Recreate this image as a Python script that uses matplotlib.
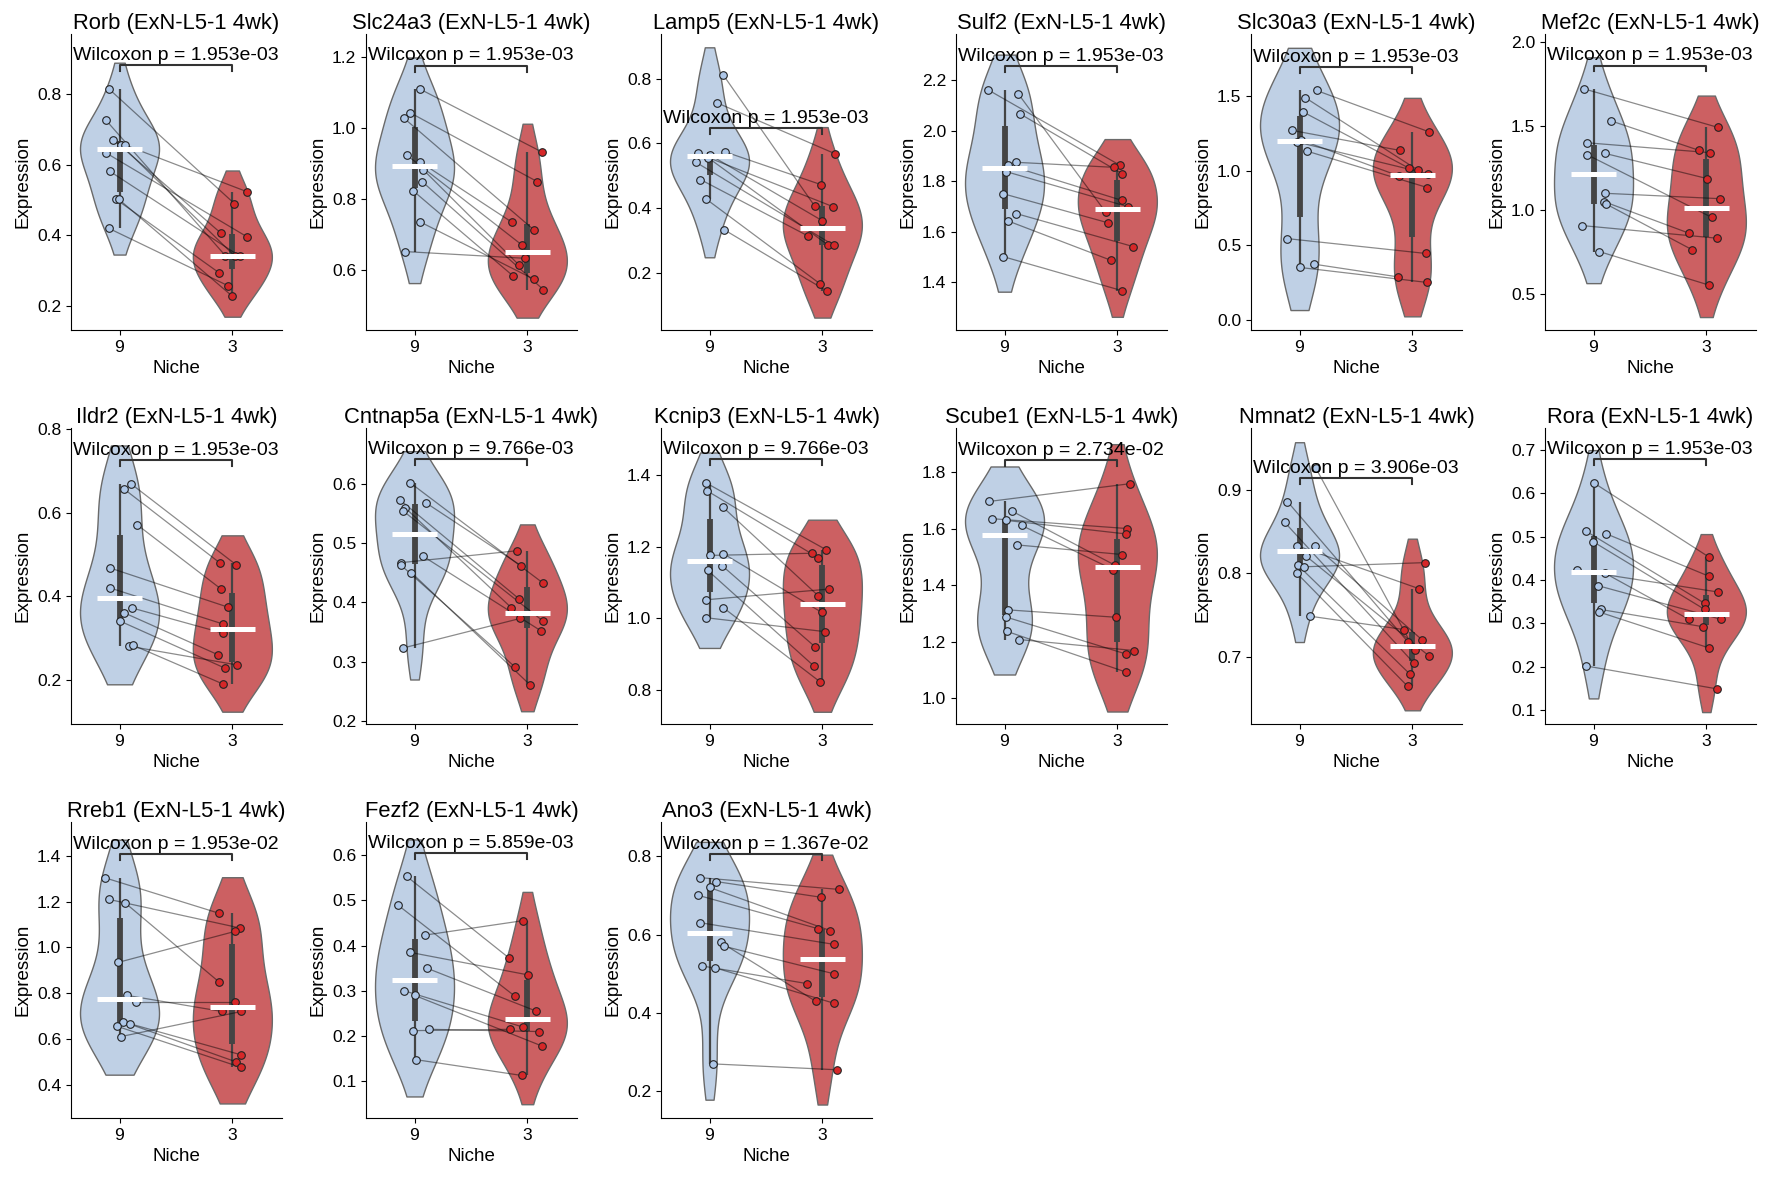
import numpy as np
import matplotlib
matplotlib.use("Agg")
import matplotlib.pyplot as plt
from matplotlib.ticker import MaxNLocator

plt.rcParams['font.family'] = ['Liberation Sans', 'DejaVu Sans']

# ---------------- data (pair i: niche 9 value <-> niche 3 value) ----------------
categories = ["9", "3"]
genes = ["Rorb", "Slc24a3", "Lamp5", "Sulf2", "Slc30a3", "Mef2c",
         "Ildr2", "Cntnap5a", "Kcnip3", "Scube1", "Nmnat2", "Rora",
         "Rreb1", "Fezf2", "Ano3"]
pvals = ["1.953e-03", "1.953e-03", "1.953e-03", "1.953e-03", "1.953e-03", "1.953e-03",
         "1.953e-03", "9.766e-03", "9.766e-03", "2.734e-02", "3.906e-03", "1.953e-03",
         "1.953e-02", "5.859e-03", "1.367e-02"]

rorb_9 = [0.814, 0.727, 0.671, 0.655, 0.655, 0.634, 0.581, 0.502, 0.502, 0.420]
rorb_3 = [0.490, 0.343, 0.407, 0.341, 0.524, 0.397, 0.341, 0.294, 0.230, 0.258]
slc24a3_9 = [1.110, 1.043, 1.028, 0.924, 0.905, 0.883, 0.849, 0.824, 0.736, 0.652]
slc24a3_3 = [0.933, 0.849, 0.712, 0.671, 0.735, 0.614, 0.545, 0.584, 0.574, 0.633]
lamp5_9 = [0.812, 0.726, 0.574, 0.569, 0.565, 0.555, 0.542, 0.488, 0.427, 0.333]
lamp5_3 = [0.406, 0.568, 0.472, 0.404, 0.361, 0.286, 0.284, 0.314, 0.166, 0.143]
sulf2_9 = [2.162, 2.146, 2.067, 1.875, 1.864, 1.838, 1.751, 1.672, 1.643, 1.502]
sulf2_3 = [1.863, 1.678, 1.830, 1.855, 1.724, 1.699, 1.636, 1.541, 1.487, 1.367]
slc30a3_9 = [1.536, 1.487, 1.393, 1.269, 1.205, 1.191, 1.131, 0.545, 0.374, 0.352]
slc30a3_3 = [1.260, 1.001, 1.015, 1.135, 0.964, 0.979, 0.886, 0.445, 0.289, 0.251]
mef2c_9 = [1.721, 1.532, 1.401, 1.338, 1.330, 1.101, 1.051, 1.036, 0.909, 0.755]
mef2c_3 = [1.492, 1.356, 1.342, 1.188, 0.958, 1.069, 0.864, 0.765, 0.834, 0.555]
ildr2_9 = [0.669, 0.656, 0.571, 0.468, 0.420, 0.372, 0.361, 0.341, 0.281, 0.283]
ildr2_3 = [0.475, 0.480, 0.418, 0.374, 0.334, 0.312, 0.260, 0.228, 0.236, 0.190]
cntnap5a_9 = [0.602, 0.568, 0.573, 0.559, 0.554, 0.478, 0.467, 0.463, 0.450, 0.323]
cntnap5a_3 = [0.433, 0.462, 0.406, 0.391, 0.369, 0.352, 0.487, 0.291, 0.261, 0.373]
kcnip3_9 = [1.379, 1.357, 1.310, 1.176, 1.181, 1.147, 1.134, 1.052, 1.030, 1.002]
kcnip3_3 = [1.192, 1.170, 1.064, 1.182, 1.017, 0.921, 0.867, 1.082, 0.823, 0.963]
scube1_9 = [1.696, 1.661, 1.635, 1.629, 1.611, 1.542, 1.312, 1.287, 1.236, 1.207]
scube1_3 = [1.759, 1.470, 1.600, 1.581, 1.455, 1.508, 1.286, 1.156, 1.092, 1.168]
nmnat2_9 = [0.926, 0.886, 0.861, 0.833, 0.833, 0.821, 0.810, 0.808, 0.800, 0.749]
nmnat2_3 = [0.708, 0.718, 0.693, 0.782, 0.721, 0.701, 0.680, 0.813, 0.665, 0.733]
rora_9 = [0.624, 0.512, 0.506, 0.488, 0.422, 0.416, 0.387, 0.332, 0.326, 0.202]
rora_3 = [0.452, 0.346, 0.408, 0.332, 0.372, 0.309, 0.309, 0.292, 0.243, 0.149]
rreb1_9 = [1.305, 1.210, 1.195, 0.935, 0.790, 0.760, 0.675, 0.665, 0.655, 0.610]
rreb1_3 = [1.150, 1.085, 0.850, 1.070, 0.720, 0.760, 0.530, 0.500, 0.475, 0.720]
fezf2_9 = [0.553, 0.490, 0.423, 0.385, 0.350, 0.300, 0.290, 0.215, 0.212, 0.148]
fezf2_3 = [0.372, 0.288, 0.455, 0.335, 0.255, 0.220, 0.178, 0.210, 0.215, 0.113]
ano3_9 = [0.745, 0.735, 0.720, 0.700, 0.630, 0.580, 0.570, 0.520, 0.515, 0.270]
ano3_3 = [0.715, 0.695, 0.610, 0.615, 0.575, 0.430, 0.500, 0.475, 0.425, 0.255]

# horizontal jitter of the plotted points (category units)
rorb_j9 = [-0.094, -0.124, -0.056, 0.015, 0.053, -0.124, -0.085, -0.030, -0.006, -0.094]
rorb_j3 = [0.018, -0.062, -0.103, 0.024, 0.126, 0.126, 0.068, -0.115, -0.006, -0.038]
slc24a3_j9 = [0.047, -0.038, -0.094, -0.070, 0.047, 0.076, 0.068, -0.015, 0.047, -0.085]
slc24a3_j3 = [0.126, 0.088, 0.062, -0.050, -0.138, -0.074, 0.141, -0.129, 0.059, -0.021]
lamp5_j9 = [0.122, 0.065, 0.137, -0.104, 0.000, -0.010, -0.122, -0.080, -0.027, 0.128]
lamp5_j3 = [-0.068, 0.113, -0.009, 0.095, -0.003, 0.048, 0.104, -0.131, -0.024, 0.039]
sulf2_j9 = [-0.146, 0.122, 0.137, 0.101, 0.030, 0.015, -0.015, 0.104, 0.030, -0.015]
sulf2_j3 = [0.024, -0.104, 0.042, -0.027, 0.042, 0.096, -0.087, 0.143, -0.057, 0.039]
slc30a3_j9 = [0.151, 0.053, 0.030, -0.068, 0.010, -0.021, 0.062, -0.113, 0.125, 0.000]
slc30a3_j3 = [0.145, 0.053, -0.027, -0.110, -0.120, 0.136, 0.134, 0.122, -0.131, 0.134]
mef2c_j9 = [-0.083, 0.151, -0.059, 0.101, -0.056, 0.101, 0.095, 0.115, -0.098, 0.050]
mef2c_j3 = [0.104, -0.065, 0.036, 0.009, 0.047, 0.118, -0.154, -0.124, 0.098, 0.027]
ildr2_j9 = [0.100, 0.041, 0.156, -0.088, -0.085, 0.112, 0.038, 0.003, 0.082, 0.121]
ildr2_j3 = [0.035, -0.112, -0.103, -0.038, -0.085, -0.082, -0.124, -0.062, 0.044, -0.079]
cntnap5a_j9 = [-0.041, 0.100, -0.130, -0.080, -0.100, 0.074, -0.121, -0.121, -0.027, -0.104]
cntnap5a_j3 = [0.136, -0.056, -0.074, -0.142, 0.136, 0.121, -0.095, -0.109, 0.024, -0.062]
kcnip3_j9 = [-0.033, -0.024, 0.122, 0.000, 0.122, 0.113, -0.015, -0.033, 0.122, -0.033]
kcnip3_j3 = [0.033, -0.039, -0.039, -0.096, -0.006, -0.066, -0.075, 0.060, -0.021, 0.024]
scube1_j9 = [-0.134, 0.069, -0.113, 0.012, 0.152, 0.113, 0.033, 0.012, 0.021, 0.131]
scube1_j3 = [0.116, -0.020, 0.087, 0.075, -0.039, 0.045, -0.015, 0.075, 0.075, 0.149]
nmnat2_j9 = [0.145, -0.107, -0.130, -0.018, 0.136, 0.056, -0.015, 0.036, -0.021, 0.089]
nmnat2_j3 = [0.021, -0.038, 0.012, 0.056, 0.083, 0.151, -0.024, 0.112, -0.041, -0.077]
rora_j9 = [0.000, -0.065, 0.115, -0.003, -0.145, 0.098, 0.036, 0.062, 0.050, -0.071]
rora_j3 = [0.027, -0.015, 0.027, -0.015, 0.107, -0.154, 0.133, -0.027, 0.027, 0.092]
rreb1_j9 = [-0.130, -0.090, 0.050, -0.010, 0.070, 0.150, 0.030, 0.090, -0.020, 0.010]
rreb1_j3 = [-0.120, 0.070, -0.120, 0.020, -0.090, 0.020, 0.080, 0.030, 0.080, 0.080]
fezf2_j9 = [-0.070, -0.150, 0.090, -0.040, 0.110, -0.090, 0.000, 0.130, -0.010, 0.010]
fezf2_j3 = [-0.160, -0.110, -0.040, 0.010, 0.080, -0.040, 0.130, 0.100, -0.150, -0.050]
ano3_j9 = [-0.080, 0.060, 0.000, -0.100, -0.080, 0.100, 0.130, -0.070, 0.050, 0.030]
ano3_j3 = [0.150, -0.010, 0.070, -0.040, 0.100, -0.060, 0.100, -0.140, 0.100, 0.130]

# y-axis limits as shown
ylims = [(0.133, 0.969), (0.431, 1.265), (0.022, 0.939), (1.211, 2.383), (-0.067, 1.914), (0.289, 2.047),
         (0.095, 0.802), (0.195, 0.694), (0.705, 1.532), (0.908, 1.956), (0.620, 0.974), (0.068, 0.750),
         (0.254, 1.549), (0.019, 0.673), (0.132, 0.887)]

panel_data = [
    (rorb_9, rorb_3, rorb_j9, rorb_j3), (slc24a3_9, slc24a3_3, slc24a3_j9, slc24a3_j3),
    (lamp5_9, lamp5_3, lamp5_j9, lamp5_j3), (sulf2_9, sulf2_3, sulf2_j9, sulf2_j3),
    (slc30a3_9, slc30a3_3, slc30a3_j9, slc30a3_j3), (mef2c_9, mef2c_3, mef2c_j9, mef2c_j3),
    (ildr2_9, ildr2_3, ildr2_j9, ildr2_j3), (cntnap5a_9, cntnap5a_3, cntnap5a_j9, cntnap5a_j3),
    (kcnip3_9, kcnip3_3, kcnip3_j9, kcnip3_j3), (scube1_9, scube1_3, scube1_j9, scube1_j3),
    (nmnat2_9, nmnat2_3, nmnat2_j9, nmnat2_j3), (rora_9, rora_3, rora_j9, rora_j3),
    (rreb1_9, rreb1_3, rreb1_j9, rreb1_j3), (fezf2_9, fezf2_3, fezf2_j9, fezf2_j3),
    (ano3_9, ano3_3, ano3_j9, ano3_j3),
]

# ---------------- styling ----------------
VIOLIN_FILL = ["#bfd0e5", "#cc6062"]
POINT_FILL = ["#aec7e8", "#d62728"]
BOX_COLOR = "#444444"

W, H = 1770, 1178
fig = plt.figure(figsize=(W / 100, H / 100), dpi=100)

col_left = [71, 366, 661, 956, 1251, 1545]
row_top = [34, 428, 822]
ax_w, ax_h = 211, 296


def violin(ax, data, pos, color):
    d = np.asarray(data, float)
    n = len(d)
    bw = n ** (-1 / 5) * d.std(ddof=1)
    y = np.linspace(d.min() - bw, d.max() + bw, 200)
    dens = np.exp(-0.5 * ((y[:, None] - d[None, :]) / bw) ** 2).sum(1)
    dens = dens / dens.max() * 0.35
    ax.fill_betweenx(y, pos - dens, pos + dens, facecolor=color,
                     edgecolor="#6a6a6a", linewidth=1.0, zorder=1)
    q1, med, q3 = np.percentile(d, [25, 50, 75])
    iqr = q3 - q1
    lo = d[d >= q1 - 1.5 * iqr].min()
    hi = d[d <= q3 + 1.5 * iqr].max()
    ax.plot([pos, pos], [lo, hi], color=BOX_COLOR, lw=1.6, solid_capstyle="butt", zorder=2)
    ax.plot([pos, pos], [q1, q3], color=BOX_COLOR, lw=4.2, solid_capstyle="butt", zorder=2)
    return med, hi


for i, (gene, p, (v9, v3, j9, j3), yl) in enumerate(zip(genes, pvals, panel_data, ylims)):
    r, c = divmod(i, 6)
    left = col_left[c] / W
    bottom = 1 - (row_top[r] + ax_h) / H
    ax = fig.add_axes([left, bottom, ax_w / W, ax_h / H])

    med9, hi9 = violin(ax, v9, 0, VIOLIN_FILL[0])
    med3, hi3 = violin(ax, v3, 1, VIOLIN_FILL[1])

    x9 = 0 + np.asarray(j9)
    x3 = 1 + np.asarray(j3)
    for a, b, ya, yb in zip(x9, x3, v9, v3):
        ax.plot([a, b], [ya, yb], color="black", alpha=0.45, lw=0.9, zorder=3)
    ax.scatter(x9, v9, s=30, facecolor=POINT_FILL[0], edgecolor="#222222", linewidth=0.8, zorder=4)
    ax.scatter(x3, v3, s=30, facecolor=POINT_FILL[1], edgecolor="#222222", linewidth=0.8, zorder=4)

    for pos, med in ((0, med9), (1, med3)):
        ax.plot([pos - 0.2, pos + 0.2], [med, med], color="white", lw=3.6,
                solid_capstyle="butt", zorder=5)

    ax.set_ylim(*yl)
    ax.set_xlim(-0.43, 1.44)
    ax.yaxis.set_major_locator(MaxNLocator(nbins=7, steps=[1, 2, 2.5, 5, 10]))
    rng = yl[1] - yl[0]
    yb_ = max(hi9, hi3) + 0.079 * rng
    h = 0.02 * rng
    ax.plot([0, 0, 1, 1], [yb_ - h, yb_, yb_, yb_ - h], color="#333333", lw=1.5, zorder=6)
    ax.annotate(f"Wilcoxon p = {p}", xy=(0.5, yb_), xytext=(0, 1), textcoords="offset points",
                ha="center", va="bottom", fontsize=14, zorder=7)

    ax.set_xticks([0, 1])
    ax.set_xticklabels(categories)
    ax.tick_params(labelsize=12.6)
    ax.set_xlabel("Niche", fontsize=13.5)
    ax.set_ylabel("Expression", fontsize=13.5)
    ax.set_title(f"{gene} (ExN-L5-1 4wk)", fontsize=15.8, pad=3)
    ax.spines["top"].set_visible(False)
    ax.spines["right"].set_visible(False)

fig.savefig("out.png", dpi=100)
